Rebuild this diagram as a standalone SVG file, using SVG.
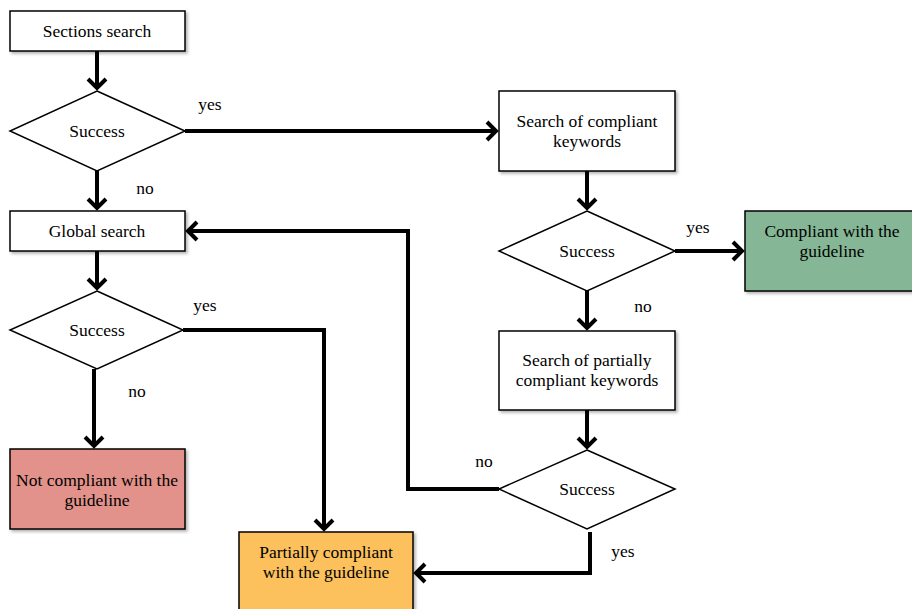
<svg xmlns="http://www.w3.org/2000/svg" width="912" height="609" viewBox="0 0 912 609">
<defs>
<style>
.box{stroke:#000;stroke-width:1.5;filter:url(#sh)}
.w{fill:#fff}
.dia{fill:#fff;stroke:#000;stroke-width:1.5}
.t,.lbl{font-family:'Liberation Serif','Times New Roman','DejaVu Serif',serif;font-size:17.5px;fill:#000;text-anchor:middle;dominant-baseline:central}
.c{fill:none;stroke:#000;stroke-width:4;stroke-linejoin:miter;marker-end:url(#ah)}
</style>
<filter id="sh" x="-10%" y="-10%" width="130%" height="130%">
<feDropShadow dx="2" dy="2" stdDeviation="1.5" flood-color="#000" flood-opacity="0.3"/>
</filter>
<marker id="ah" markerUnits="userSpaceOnUse" markerWidth="24" markerHeight="24" refX="12" refY="12" orient="auto" viewBox="0 0 24 24">
<path d="M3,3 L12,12 L3,21" fill="none" stroke="#000" stroke-width="4" stroke-linejoin="miter"/>
</marker>
</defs>

<g id="connectors">
<path class="c" d="M97,51 V88"/>
<path class="c" d="M97,171 V208"/>
<path class="c" d="M185,131 H496"/>
<path class="c" d="M587,171 V208"/>
<path class="c" d="M675,251 H742"/>
<path class="c" d="M587,291 V328"/>
<path class="c" d="M587,410 V447"/>
<path class="c" d="M499,489 H408 V231 H188"/>
<path class="c" d="M590,532 V573 H416"/>
<path class="c" d="M97,251 V288"/>
<path class="c" d="M183,330 H324 V529"/>
<path class="c" d="M94,369 V446"/>
</g>

<g id="labels">
<text class="lbl" x="210" y="104">yes</text>
<text class="lbl" x="145" y="188">no</text>
<text class="lbl" x="698" y="227">yes</text>
<text class="lbl" x="643" y="306">no</text>
<text class="lbl" x="205" y="305">yes</text>
<text class="lbl" x="137" y="391">no</text>
<text class="lbl" x="484" y="461">no</text>
<text class="lbl" x="623" y="551">yes</text>
</g>

<g id="sections-search">
<rect class="box w" x="10" y="11" width="175" height="40"/>
<text class="t" x="97" y="31">Sections search</text>
</g>
<g id="success-1">
<polygon class="dia" points="97,91 185,131 97,171 10,131"/>
<text class="t" x="97" y="131">Success</text>
</g>
<g id="global-search">
<rect class="box w" x="10" y="211" width="175" height="40"/>
<text class="t" x="97" y="231">Global search</text>
</g>
<g id="success-4">
<polygon class="dia" points="97,291 183,330 97,369 10,330"/>
<text class="t" x="97" y="330">Success</text>
</g>
<g id="not-compliant">
<rect class="box" fill="#e2928a" x="10" y="449" width="175" height="80"/>
<text class="t" x="97" y="480">Not compliant with the</text>
<text class="t" x="97" y="500">guideline</text>
</g>
<g id="search-compliant">
<rect class="box w" x="499" y="91" width="176" height="80"/>
<text class="t" x="587" y="121">Search of compliant</text>
<text class="t" x="587" y="141">keywords</text>
</g>
<g id="success-2">
<polygon class="dia" points="587,211 675,251 587,291 499,251"/>
<text class="t" x="587" y="251">Success</text>
</g>
<g id="compliant">
<rect class="box" fill="#85b695" x="745" y="211" width="170" height="80"/>
<text class="t" x="832" y="231">Compliant with the</text>
<text class="t" x="832" y="251">guideline</text>
</g>
<g id="search-partial">
<rect class="box w" x="499" y="331" width="176" height="79"/>
<text class="t" x="587" y="360">Search of partially</text>
<text class="t" x="587" y="380">compliant keywords</text>
</g>
<g id="success-3">
<polygon class="dia" points="587,450 675,489 587,529 499,489"/>
<text class="t" x="587" y="489">Success</text>
</g>
<g id="partially-compliant">
<rect class="box" fill="#fcc05b" x="239" y="532" width="174" height="82"/>
<text class="t" x="326" y="552">Partially compliant</text>
<text class="t" x="326" y="572">with the guideline</text>
</g>
</svg>
